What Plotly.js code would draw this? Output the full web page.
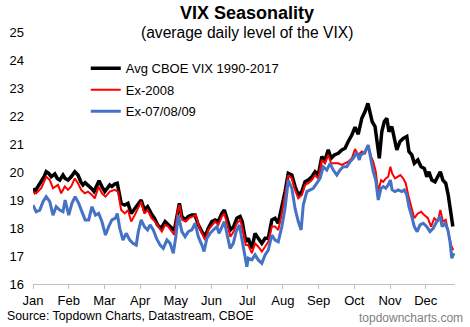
<!DOCTYPE html>
<html>
<head>
<meta charset="utf-8">
<script src="https://cdn.plot.ly/plotly-3.0.1.min.js"></script>
<style>html,body{margin:0;padding:0;background:#fff}#chart{width:470px;height:327px}</style>
</head>
<body>
<div id="chart"></div>
<script>
// x positions are in months from the start of January (0 = Jan, 1 = Feb, ...)
const monthLabels = ["Jan","Feb","Mar","Apr","May","Jun","Jul","Aug","Sep","Oct","Nov","Dec"];
const monthTicks = [0,1,2,3,4,5,6,7,8,9,10,11];

const avgX = [0.00,0.05,0.14,0.23,0.31,0.37,0.44,0.51,0.61,0.68,0.75,0.84,0.90,0.98,1.07,1.17,1.26,1.34,1.40,1.46,1.54,1.63,1.71,1.77,1.85,1.93,2.01,2.08,2.15,2.21,2.29,2.36,2.40,2.47,2.57,2.66,2.75,2.85,2.95,3.03,3.12,3.21,3.31,3.40,3.49,3.59,3.70,3.79,3.89,3.96,4.05,4.10,4.17,4.26,4.35,4.45,4.54,4.63,4.73,4.82,4.91,5.01,5.10,5.19,5.29,5.36,5.43,5.53,5.62,5.71,5.80,5.86,5.96,6.03,6.13,6.22,6.31,6.41,6.50,6.59,6.69,6.78,6.87,6.97,7.06,7.15,7.25,7.34,7.43,7.53,7.62,7.71,7.81,7.90,7.99,8.09,8.18,8.27,8.35,8.44,8.55,8.65,8.74,8.83,8.93,9.02,9.11,9.21,9.30,9.38,9.44,9.50,9.58,9.66,9.70,9.77,9.84,9.91,9.97,10.05,10.12,10.19,10.28,10.37,10.47,10.53,10.61,10.68,10.78,10.87,10.96,11.03,11.09,11.17,11.26,11.34,11.41,11.48,11.56,11.63,11.70,11.76];
const avgVIX = [19.42,19.30,19.48,19.65,19.83,20.01,19.95,19.83,19.93,19.77,19.71,19.89,19.77,19.71,19.83,20.01,19.89,19.65,19.54,19.62,19.54,19.42,19.30,19.48,19.69,19.48,19.30,19.42,19.54,19.48,19.57,19.60,19.36,18.88,18.82,18.88,18.52,18.70,18.88,19.00,18.64,18.76,18.52,18.35,18.11,17.99,18.23,18.11,17.99,17.93,18.64,18.88,18.41,18.29,18.41,18.46,18.46,18.11,17.87,17.69,17.99,18.23,18.29,18.23,18.52,18.64,18.35,17.93,18.05,18.35,18.41,18.23,17.51,17.63,17.27,17.81,17.63,17.45,17.63,17.63,18.29,18.35,18.17,18.70,19.30,19.95,19.89,19.48,19.18,19.30,19.65,19.71,19.83,20.01,19.89,20.55,20.43,20.79,20.49,20.61,20.67,20.79,20.85,21.09,21.32,21.60,21.35,21.92,22.16,22.45,22.04,21.80,21.62,20.96,20.49,21.44,21.80,21.92,21.44,21.62,21.20,20.79,21.09,21.20,21.27,20.73,20.61,20.31,20.43,20.19,20.13,19.83,20.01,19.71,19.65,19.83,20.01,19.71,19.60,19.18,18.64,18.05];

const ex2008X = [0.00,0.09,0.23,0.37,0.47,0.56,0.70,0.79,0.89,0.98,1.07,1.17,1.26,1.35,1.45,1.54,1.65,1.73,1.84,1.93,2.03,2.15,2.29,2.38,2.47,2.57,2.66,2.75,2.85,2.95,3.03,3.12,3.21,3.32,3.42,3.51,3.61,3.70,3.79,3.89,3.96,4.05,4.10,4.18,4.28,4.37,4.46,4.56,4.65,4.73,4.82,4.91,5.01,5.10,5.19,5.29,5.36,5.43,5.53,5.62,5.71,5.80,5.86,5.96,6.03,6.13,6.22,6.31,6.41,6.50,6.59,6.69,6.78,6.87,6.97,7.06,7.15,7.25,7.34,7.43,7.53,7.62,7.71,7.81,7.90,7.99,8.09,8.18,8.27,8.35,8.44,8.55,8.65,8.74,8.83,8.93,9.02,9.11,9.21,9.30,9.39,9.47,9.53,9.60,9.67,9.75,9.81,9.88,9.95,10.01,10.06,10.14,10.22,10.29,10.37,10.44,10.51,10.59,10.68,10.78,10.87,10.96,11.06,11.15,11.24,11.34,11.41,11.48,11.56,11.63,11.71,11.77];
const ex2008VIX = [19.30,19.24,19.42,19.83,19.71,19.42,19.54,19.24,19.48,19.36,19.48,19.77,19.60,19.36,19.24,19.30,19.18,19.06,19.48,19.24,19.12,19.30,19.36,19.30,18.64,18.52,18.64,18.23,18.46,18.76,18.94,18.52,18.64,18.35,18.23,18.05,17.87,18.11,18.05,17.87,17.75,18.58,18.82,18.29,18.23,18.35,18.41,18.46,18.05,17.81,17.57,17.93,18.11,18.23,18.11,18.41,18.52,18.17,17.69,17.87,18.17,18.29,18.05,17.39,17.39,17.10,17.45,17.33,17.16,17.33,17.51,18.05,18.05,17.93,18.52,19.18,19.89,19.77,19.36,19.06,19.18,19.54,19.60,19.71,19.89,19.77,20.43,20.31,20.61,20.31,20.31,20.31,20.25,20.31,20.37,20.49,20.82,20.61,20.73,20.67,20.96,20.55,20.37,20.01,19.30,19.71,19.65,19.77,19.83,20.19,19.95,19.77,19.83,19.89,19.77,19.60,19.18,18.76,18.35,18.52,18.58,18.46,18.35,18.05,18.35,18.23,18.64,18.23,18.29,17.87,17.39,17.21];

const ex070809X = [0.00,0.09,0.19,0.28,0.37,0.47,0.56,0.65,0.75,0.84,0.90,1.00,1.09,1.18,1.28,1.37,1.46,1.56,1.65,1.75,1.84,1.93,2.03,2.12,2.21,2.31,2.36,2.43,2.52,2.61,2.71,2.80,2.89,2.95,3.03,3.12,3.21,3.28,3.37,3.46,3.56,3.65,3.75,3.84,3.93,4.00,4.07,4.17,4.26,4.35,4.45,4.54,4.63,4.73,4.79,4.87,4.96,5.05,5.15,5.21,5.29,5.36,5.43,5.52,5.61,5.69,5.78,5.86,5.99,6.03,6.13,6.22,6.31,6.41,6.50,6.59,6.69,6.78,6.87,6.97,7.06,7.15,7.25,7.34,7.43,7.51,7.57,7.67,7.76,7.85,7.95,8.04,8.13,8.23,8.32,8.41,8.51,8.60,8.69,8.79,8.88,8.97,9.07,9.14,9.18,9.28,9.39,9.47,9.53,9.60,9.67,9.75,9.81,9.88,9.95,10.01,10.06,10.14,10.23,10.33,10.40,10.47,10.53,10.61,10.68,10.76,10.84,10.93,11.03,11.12,11.21,11.31,11.40,11.46,11.54,11.62,11.68,11.73,11.79];
const ex070809VIX = [18.82,18.58,18.64,18.94,19.12,18.94,18.46,18.76,18.64,18.58,19.00,18.46,18.88,19.12,18.88,18.58,18.29,18.29,18.76,18.46,18.52,18.23,17.75,18.05,18.29,18.35,18.52,17.99,17.57,17.81,17.57,17.45,17.39,17.87,18.29,18.05,17.93,18.11,17.93,17.63,17.39,17.27,17.57,17.45,17.10,17.69,18.46,17.87,17.69,17.87,17.93,18.17,17.69,17.39,17.16,17.63,17.81,17.93,18.05,17.81,18.05,18.23,17.81,17.27,17.45,17.87,18.11,17.57,16.62,16.92,16.86,17.04,16.86,16.74,17.04,17.21,17.75,17.57,17.51,18.05,18.70,19.71,19.42,18.70,18.23,17.93,18.82,19.30,19.36,19.42,19.60,19.77,20.19,20.07,20.31,20.07,19.89,20.07,20.19,20.19,20.37,20.49,20.70,20.43,20.61,20.67,20.96,20.37,20.01,19.71,19.00,19.42,19.48,19.42,19.54,19.71,19.36,19.30,19.36,19.30,19.36,19.18,18.76,18.41,18.05,17.87,18.11,18.17,18.05,17.87,17.99,18.23,18.41,18.05,18.17,17.93,17.51,16.92,17.10];

const yTicks = [16,17,18,19,20,21,22,23,24,25];

const traces = [
  {x: avgX, y: avgVIX, name: "Avg CBOE VIX 1990-2017", type: "scatter", mode: "lines",
   line: {color: "#000000", width: 3.5}, legendgroup: "a"},
  {x: ex2008X, y: ex2008VIX, name: "Ex-2008", type: "scatter", mode: "lines",
   line: {color: "#ff0000", width: 2}, legendgroup: "b"},
  {x: ex070809X, y: ex070809VIX, name: "Ex-07/08/09", type: "scatter", mode: "lines",
   line: {color: "#4472c4", width: 3}, legendgroup: "c"}
];

const font = "Liberation Sans, Arial, sans-serif";
const layout = {
  width: 470, height: 327,
  margin: {l: 33, r: 15, t: 32, b: 43},
  paper_bgcolor: "#ffffff", plot_bgcolor: "#ffffff",
  font: {family: font, size: 13, color: "#000000"},
  showlegend: true,
  title: {text: "<b>VIX Seasonality</b>", font: {family: font, size: 18, color: "#000"},
          x: 247/470, xref: "container", xanchor: "center", y: 1 - 13/327, yref: "container", yanchor: "middle"},
  xaxis: {range: [0, 11.82], tickvals: monthTicks, ticktext: monthLabels,
          showgrid: false, zeroline: false, showline: true, linecolor: "#bfbfbf", linewidth: 1,
          ticks: "outside", ticklen: 4, tickcolor: "#bfbfbf",
          tickfont: {family: font, size: 13, color: "#000"}, fixedrange: true},
  yaxis: {range: [16, 25], tickvals: yTicks, showgrid: false, zeroline: false, showline: false,
          ticks: "", ticklabelstandoff: 8, tickfont: {family: font, size: 13, color: "#000"}, fixedrange: true},
  legend: {x: 0.125, xanchor: "left", y: 0.915, yanchor: "top", bgcolor: "rgba(0,0,0,0)",
           font: {family: font, size: 13, color: "#000"}, traceorder: "grouped", tracegroupgap: 1.5,
           itemwidth: 30},
  annotations: [
    {text: "(average daily level of the VIX)", xref: "paper", yref: "paper", x: (247-33)/422, y: 1.0,
     xanchor: "center", yanchor: "middle", showarrow: false, font: {family: font, size: 15.6, color: "#000"}},
    {text: "Source: Topdown Charts, Datastream, CBOE", xref: "paper", yref: "paper", x: (5-33)/422, y: (284-316)/252,
     xanchor: "left", yanchor: "middle", showarrow: false, font: {family: font, size: 12.3, color: "#000"}},
    {text: "topdowncharts.com", xref: "paper", yref: "paper", x: (465-33)/422, y: (284-318)/252,
     xanchor: "right", yanchor: "middle", showarrow: false, font: {family: font, size: 12, color: "#7f7f7f"}}
  ]
};

Plotly.newPlot("chart", traces, layout, {staticPlot: true, displayModeBar: false});
</script>
</body>
</html>
